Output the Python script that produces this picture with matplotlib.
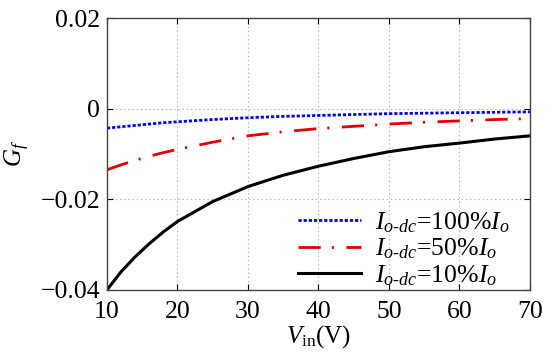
import numpy as np
import matplotlib
matplotlib.use("Agg")
import matplotlib.pyplot as plt

# values
vin = [10, 12, 14, 16, 18, 20, 25, 30, 35, 40, 45, 50, 55, 60, 65, 70]
gf_100 = [-0.0043, -0.0040, -0.0037, -0.0034, -0.0031, -0.0029, -0.0024,
          -0.0020, -0.0017, -0.0015, -0.0013, -0.0011, -0.0010, -0.0009,
          -0.0008, -0.0007]
gf_50 = [-0.0135, -0.0124, -0.0114, -0.0105, -0.0097, -0.0090, -0.0074,
         -0.0060, -0.0051, -0.0044, -0.0039, -0.0034, -0.0030, -0.0027,
         -0.0024, -0.0022]
gf_10 = [-0.0400, -0.0360, -0.0327, -0.0298, -0.0272, -0.0249, -0.0205,
         -0.0172, -0.0147, -0.0127, -0.0110, -0.0095, -0.0084, -0.0076,
         -0.0067, -0.0060]

xticks = [10, 20, 30, 40, 50, 60, 70]
yticks = [-0.04, -0.02, 0, 0.02]
ytick_labels = ["\u22120.04", "\u22120.02", "0", "0.02"]

plt.rcParams['font.family'] = ['Liberation Serif', 'DejaVu Serif']
plt.rcParams['mathtext.fontset'] = 'custom'
plt.rcParams['mathtext.rm'] = 'Liberation Serif'
plt.rcParams['mathtext.it'] = 'Liberation Serif:italic'
plt.rcParams['lines.scale_dashes'] = False

fig = plt.figure(figsize=(5.5, 3.61), dpi=100)
ax = fig.add_axes([0.1945, 0.197, 0.769, 0.753])

ax.plot(vin, gf_100, color='#0000ee', lw=2.0, dashes=(2.3, 1.4),
        label=r'$I_{o\text{-}dc}$=100%$I_o$')
ax.plot(vin, gf_50, color='#dd0000', lw=2.0, dashes=(16, 8, 1.5, 9),
        label=r'$I_{o\text{-}dc}$=50%$I_o$')
ax.plot(vin, gf_10, color='black', lw=2.2,
        label=r'$I_{o\text{-}dc}$=10%$I_o$')

ax.set_xlim(10, 70)
ax.set_ylim(-0.04, 0.02)
ax.set_xticks(xticks)
ax.set_yticks(yticks)
ax.set_yticklabels(ytick_labels)
ax.tick_params(direction='in', top=True, right=True, labelsize=18.5, length=4,
               width=0.8)
ax.tick_params(axis='x', pad=8)
ax.tick_params(axis='y', pad=5)
ax.grid(True, color='#b0b0b0', linestyle=(0, (1, 2)), lw=0.8)
for s in ax.spines.values():
    s.set_color('#444444')
    s.set_linewidth(1.0)

ax.set_xlabel(r'$V_{\mathrm{in}}$(V)', fontsize=18, labelpad=0)
ax.set_ylabel(r'$G_f$', fontsize=18, labelpad=6)

ax.legend(loc='lower right', bbox_to_anchor=(0.99, -0.05), frameon=False,
          fontsize=18.5, handlelength=2.45, handletextpad=0.55,
          labelspacing=0.08, borderaxespad=0.2)

fig.savefig('out.png', dpi=100)
